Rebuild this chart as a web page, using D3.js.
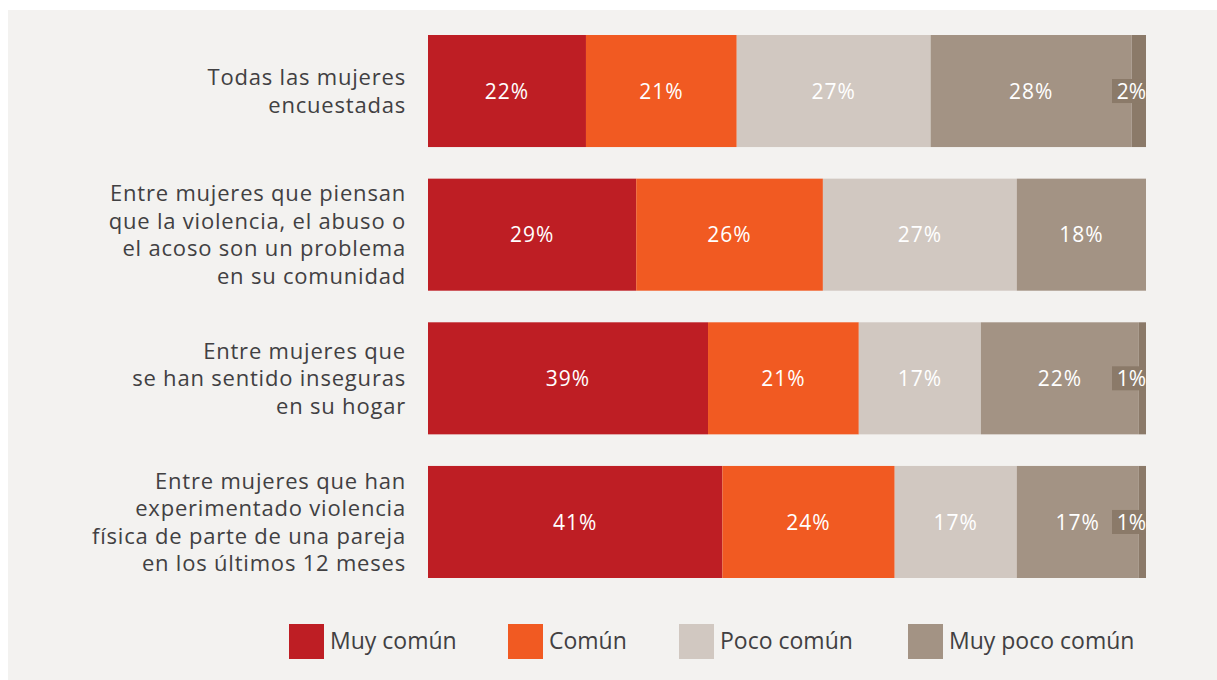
<!DOCTYPE html>
<html>
<head>
<meta charset="utf-8">
<script src="https://cdn.jsdelivr.net/npm/d3@7"></script>
<style>
  body { margin: 0; background: #ffffff; }
  svg text { font-family: "Open Sans", "Noto Sans", sans-serif; font-weight: 500; }
</style>
</head>
<body>
<svg id="chart" width="1217" height="680"></svg>
<script>
// categories (each one is a list of lines)
const categories = [
    ["Todas las mujeres", "encuestadas"],
    ["Entre mujeres que piensan", "que la violencia, el abuso o", "el acoso son un problema", "en su comunidad"],
    ["Entre mujeres que", "se han sentido inseguras", "en su hogar"],
    ["Entre mujeres que han", "experimentado violencia", "física de parte de una pareja", "en los últimos 12 meses"]
];
const seriesKeys = ["Muy común", "Común", "Poco común", "Muy poco común", "Otro"];
const muyComun = [22, 29, 39, 41];
const comun = [21, 26, 21, 24];
const pocoComun = [27, 27, 17, 17];
const muyPocoComun = [28, 18, 22, 17];
const otro = [2, 0, 1, 1];
const legendKeys = ["Muy común", "Común", "Poco común", "Muy poco común"];

const colors = ["#be1e24", "#f15a22", "#d1c8c1", "#a39384", "#8b7a69"];

const width = 1217, height = 680;
const svg = d3.select("#chart");

// panel background
svg.append("rect")
    .attr("x", 8).attr("y", 10)
    .attr("width", width - 8).attr("height", height - 10)
    .attr("fill", "#f3f2f0");

const data = categories.map((c, i) => ({
    cat: i,
    "Muy común": muyComun[i],
    "Común": comun[i],
    "Poco común": pocoComun[i],
    "Muy poco común": muyPocoComun[i],
    "Otro": otro[i]
}));

const xScale = d3.scaleLinear().domain([0, 100]).range([428, 1146]);
const yScale = d3.scaleBand()
    .domain(data.map(d => d.cat))
    .range([35, 578])
    .paddingInner(0.22)
    .paddingOuter(0);

const colorScale = d3.scaleOrdinal().domain(seriesKeys).range(colors);
const stacked = d3.stack().keys(seriesKeys)(data);

// bars
const groups = svg.append("g")
    .selectAll("g")
    .data(stacked)
    .join("g")
    .attr("fill", d => colorScale(d.key));

groups.selectAll("rect")
    .data(d => d)
    .join("rect")
    .attr("x", d => xScale(d[0]))
    .attr("y", d => yScale(d.data.cat))
    .attr("width", d => xScale(d[1]) - xScale(d[0]))
    .attr("height", yScale.bandwidth());

// value labels
stacked.forEach((series, si) => {
    series.forEach(d => {
        const v = d[1] - d[0];
        if (v <= 0) return;
        const cy = yScale(d.data.cat) + yScale.bandwidth() / 2;
        if (v < 5) {
            // small segment: label boxed at the bar end
            const xr = xScale(d[1]);
            svg.append("rect")
                .attr("x", xr - 34).attr("y", cy - 12)
                .attr("width", 34).attr("height", 24)
                .attr("fill", colors[4]);
            svg.append("text")
                .attr("x", xr).attr("y", cy)
                .attr("dy", "0.36em")
                .attr("text-anchor", "end")
                .attr("fill", "#ffffff")
                .style("font-size", "21px")
                .text(v + "%");
        } else {
            svg.append("text")
                .attr("x", (xScale(d[0]) + xScale(d[1])) / 2)
                .attr("y", cy)
                .attr("dy", "0.36em")
                .attr("text-anchor", "middle")
                .attr("fill", "#ffffff")
                .style("font-size", "21px")
                .style("letter-spacing", "1px")
                .text(v + "%");
        }
    });
});

// category labels
const lineH = 27.5;
categories.forEach((lines, i) => {
    const cy = yScale(i) + yScale.bandwidth() / 2;
    const t = svg.append("text")
        .attr("text-anchor", "end")
        .attr("fill", "#414042")
        .style("font-size", "22px")
        .style("letter-spacing", "0.8px");
    lines.forEach((ln, j) => {
        t.append("tspan")
            .attr("x", 406)
            .attr("y", cy + (j - (lines.length - 1) / 2) * lineH)
            .attr("dy", "0.36em")
            .text(ln);
    });
});

// legend
const legendX = [289, 508, 679, 908];
legendKeys.forEach((k, i) => {
    svg.append("rect")
        .attr("x", legendX[i]).attr("y", 624)
        .attr("width", 35).attr("height", 35)
        .attr("fill", colorScale(k));
    svg.append("text")
        .attr("x", legendX[i] + 41).attr("y", 641)
        .attr("dy", "0.36em")
        .attr("fill", "#414042")
        .style("font-size", "23px")
        .text(k);
});
</script>
</body>
</html>
